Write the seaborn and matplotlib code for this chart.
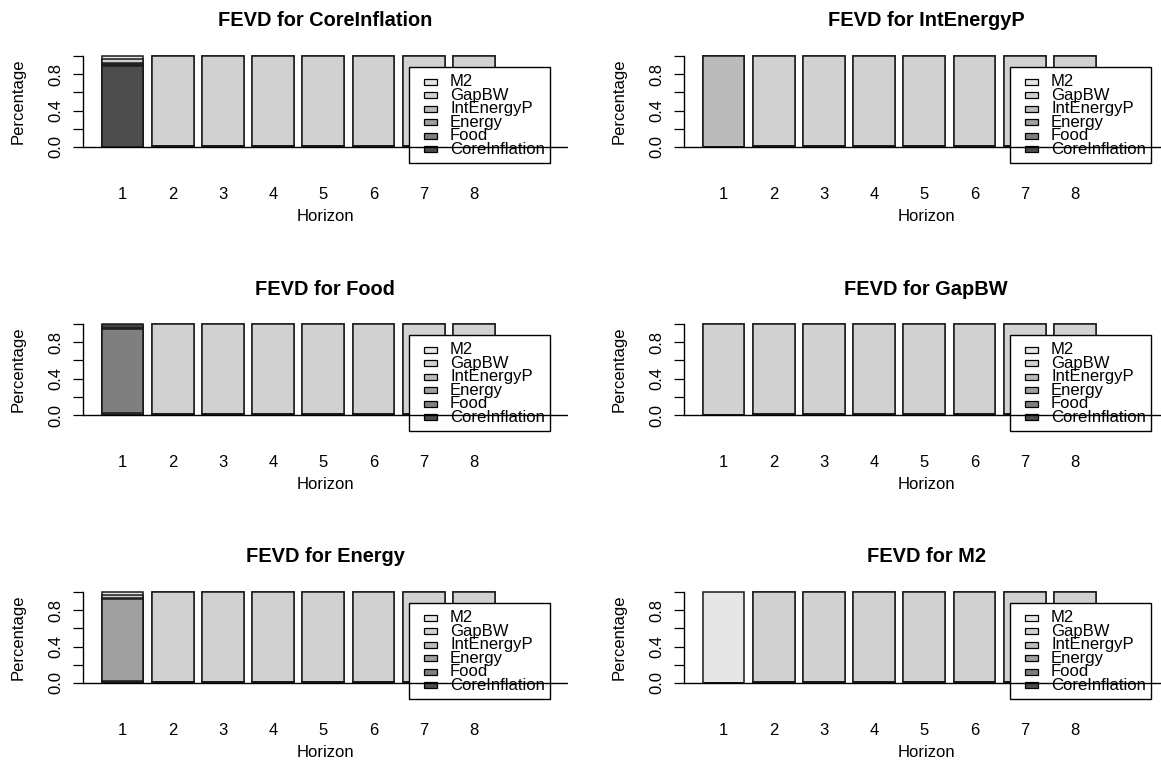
import numpy as np
import pandas as pd
import matplotlib
matplotlib.use('Agg')
import matplotlib.pyplot as plt
from matplotlib.patches import Rectangle
import seaborn as sns

# shocks, in stacking order (bottom -> top)
variables = ['CoreInflation', 'Food', 'Energy', 'IntEnergyP', 'GapBW', 'M2']
horizons = ['1', '2', '3', '4', '5', '6', '7', '8']
colors = ['#4D4D4D', '#7F7F7F', '#A0A0A0', '#BBBBBB', '#D1D1D1', '#E6E6E6']

# share of each shock at horizon 1 for each response variable
h1_coreinflation = [0.890, 0.008, 0.014, 0.008, 0.045, 0.035]
h1_food = [0.020, 0.930, 0.008, 0.007, 0.020, 0.015]
h1_energy = [0.010, 0.010, 0.900, 0.015, 0.035, 0.030]
h1_intenergyp = [0.0, 0.0, 0.0, 1.0, 0.0, 0.0]
h1_gapbw = [0.0, 0.0, 0.0, 0.0, 1.0, 0.0]
h1_m2 = [0.0, 0.0, 0.0, 0.0, 0.0, 1.0]
# horizons 2-8 are almost entirely GapBW in every panel
later_shares = [0.004, 0.002, 0.002, 0.001, 0.991, 0.0]

# (title variable, horizon-1 shares, row, col)
panels = [
    ('CoreInflation', h1_coreinflation, 0, 0),
    ('Food', h1_food, 1, 0),
    ('Energy', h1_energy, 2, 0),
    ('IntEnergyP', h1_intenergyp, 0, 1),
    ('GapBW', h1_gapbw, 1, 1),
    ('M2', h1_m2, 2, 1),
]

sns.set_theme(style='white', rc={'text.color': 'black', 'axes.labelcolor': 'black',
                                 'xtick.color': 'black', 'ytick.color': 'black',
                                 'axes.edgecolor': 'black'})
plt.rcParams['font.family'] = ['Liberation Sans', 'DejaVu Sans']

W, H = 1161, 763
fig = plt.figure(figsize=(W / 100, H / 100), dpi=100)

for name, first, row, col in panels:
    left = 83 + 601 * col
    right = 567 + 601 * col
    y0 = 147 + 268 * row
    top = y0 - 91 * 1.04
    bottom = y0 + 91 * 0.04
    aw, ah = right - left, bottom - top
    ax = fig.add_axes([left / W, 1 - bottom / H, aw / W, ah / H])

    shares = np.array([first] + [later_shares] * 7)
    cum = shares.cumsum(axis=1)
    df = pd.DataFrame(cum, columns=variables)
    df['Horizon'] = horizons
    # draw cumulative totals from the top layer down -> stacked bars
    for j in reversed(range(len(variables))):
        sns.barplot(data=df, x='Horizon', y=variables[j], color=colors[j],
                    saturation=1, width=0.835, edgecolor='#1a1a1a', linewidth=1.1,
                    errorbar=None, ax=ax)

    ax.set_xlim(-0.787, 8.855)
    ax.set_ylim(-0.04, 1.04)
    for s in ['top', 'right', 'bottom']:
        ax.spines[s].set_visible(False)
    ax.spines['left'].set_bounds(0, 1)
    ax.spines['left'].set_linewidth(1.0)

    ax.set_yticks([0, 0.2, 0.4, 0.6, 0.8, 1.0])
    ax.set_yticklabels(['0.0', '', '0.4', '', '0.8', ''], rotation=90, va='center')
    ax.tick_params(axis='y', left=True, length=7.2, width=0.9, pad=6.8, labelsize=12)
    ax.tick_params(axis='x', length=0, pad=26, labelsize=12)

    # pixel helpers (reference coordinates of the top-left panel, shifted per panel)
    def fx(px):
        return (px + 601 * col - left) / aw

    def fy(py):
        return (bottom - (py + 268 * row)) / ah

    ax.set_xlabel('Horizon', fontsize=12)
    ax.xaxis.set_label_coords(0.5, fy(209))
    ax.set_ylabel('Percentage', fontsize=12)
    ax.yaxis.set_label_coords((26 - 83) / aw, 0.5)
    ax.set_title(f'FEVD for {name}', fontsize=14.4, fontweight='bold',
                 y=fy(21), pad=0, va='center')

    # legend box (drawn by hand to mimic the cramped R legend)
    ax.add_patch(Rectangle((fx(409), fy(163)), fx(550) - fx(409), fy(67) - fy(163),
                           transform=ax.transAxes, facecolor='white', edgecolor='black',
                           linewidth=1.0, zorder=5, clip_on=False))
    for i, j in enumerate(reversed(range(len(variables)))):
        yc = 81.7 + 13.5 * i
        ax.add_patch(Rectangle((fx(424), fy(yc + 3)), fx(437) - fx(424), fy(yc - 3) - fy(yc + 3),
                               transform=ax.transAxes, facecolor=colors[j], edgecolor='black',
                               linewidth=0.9, zorder=6, clip_on=False))
        ax.text(fx(450), fy(yc), variables[j], transform=ax.transAxes, fontsize=12,
                ha='left', va='center', zorder=6)

    ax.axhline(0, color='black', linewidth=1.0, zorder=10, clip_on=False)

fig.savefig('out.png', dpi=100)
